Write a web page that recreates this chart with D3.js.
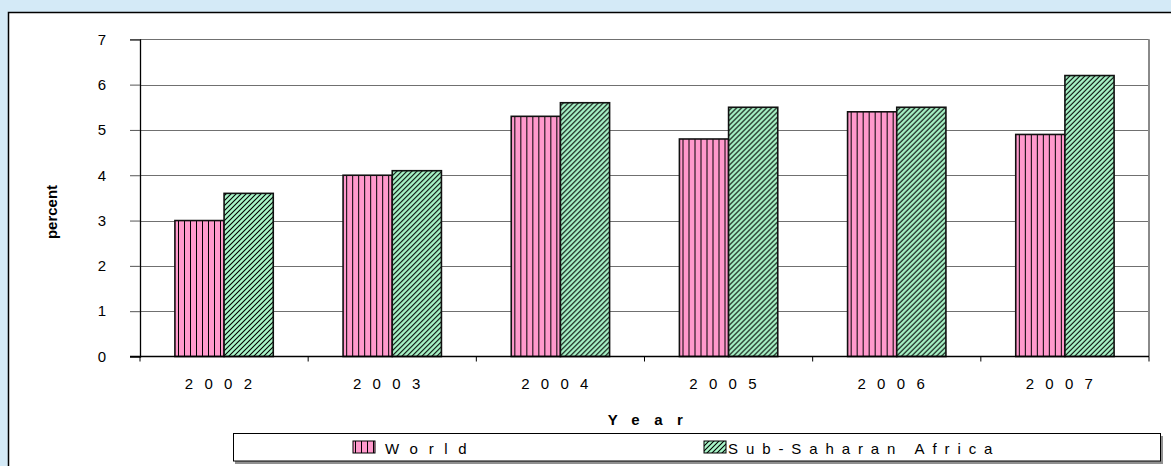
<!DOCTYPE html>
<html>
<head>
<meta charset="utf-8">
<script src="https://cdn.jsdelivr.net/npm/d3@7"></script>
<style>
    html, body { margin: 0; padding: 0; background: #d4eaf7; }
    svg { display: block; font-family: Arial, "Liberation Sans", sans-serif; }
</style>
</head>
<body>
<svg id="chart"></svg>
<script>
// data
const years = ["2002", "2003", "2004", "2005", "2006", "2007"];
const seriesNames = ["World", "Sub-Saharan Africa"];
const world = [3.0, 4.0, 5.3, 4.8, 5.4, 4.9];
const subSaharan = [3.6, 4.1, 5.6, 5.5, 5.5, 6.2];
const yTicks = [0, 1, 2, 3, 4, 5, 6, 7];

const width = 1171;
const height = 466;
const plot = { left: 140, right: 1149, top: 39.3, bottom: 356.5 };
const font = "Arial, 'Liberation Sans', sans-serif";

const svg = d3.select("#chart")
    .attr("width", width)
    .attr("height", height);

// fill patterns
const defs = svg.append("defs");
const vert = defs.append("pattern")
    .attr("id", "vert")
    .attr("patternUnits", "userSpaceOnUse")
    .attr("width", 6).attr("height", 6)
    .attr("x", 2);
vert.append("rect").attr("width", 6).attr("height", 6).attr("fill", "#ff99cc");
vert.append("rect").attr("x", 0).attr("width", 1).attr("height", 6).attr("fill", "#000");

const diag = defs.append("pattern")
    .attr("id", "diag")
    .attr("patternUnits", "userSpaceOnUse")
    .attr("width", 5).attr("height", 5);
diag.append("rect").attr("width", 5).attr("height", 5).attr("fill", "#a8f5c8");
diag.append("path")
    .attr("d", "M-1,1 L1,-1 M0,5 L5,0 M4,6 L6,4")
    .attr("stroke", "#000")
    .attr("stroke-width", 1.1);

const fills = ["url(#vert)", "url(#diag)"];

// white panel
svg.append("rect")
    .attr("x", 8.5).attr("y", 12.5)
    .attr("width", width).attr("height", height)
    .attr("fill", "#fff")
    .attr("stroke", "#000")
    .attr("stroke-width", 1.5);

const x0 = d3.scaleBand()
    .domain(years)
    .range([plot.left, plot.right])
    .padding(0);

const x1 = d3.scaleBand()
    .domain(seriesNames)
    .range([0, x0.bandwidth()])
    .paddingInner(0)
    .paddingOuter(0.71);

const y = d3.scaleLinear()
    .domain([0, 7])
    .range([plot.bottom, plot.top]);

// gridlines
svg.append("g")
    .selectAll("line")
    .data(yTicks.filter(d => d > 0))
    .join("line")
    .attr("x1", plot.left).attr("x2", plot.right)
    .attr("y1", d => Math.round(y(d)) + 0.5)
    .attr("y2", d => Math.round(y(d)) + 0.5)
    .attr("stroke", "#707070")
    .attr("stroke-width", 1);

// plot area right border
svg.append("line")
    .attr("x1", plot.right).attr("x2", plot.right)
    .attr("y1", y(7)).attr("y2", plot.bottom)
    .attr("stroke", "#8a8a8a")
    .attr("stroke-width", 2);

// bars
const rows = years.map((yr, i) => ({ year: yr, values: [world[i], subSaharan[i]] }));

svg.append("g")
    .selectAll("g")
    .data(rows)
    .join("g")
    .attr("transform", d => `translate(${x0(d.year)},0)`)
    .selectAll("rect")
    .data(d => d.values.map((v, j) => ({ name: seriesNames[j], value: v, j })))
    .join("rect")
    .attr("x", d => x1(d.name))
    .attr("y", d => y(d.value))
    .attr("width", x1.bandwidth())
    .attr("height", d => y(0) - y(d.value))
    .attr("fill", d => fills[d.j])
    .attr("stroke", "#111")
    .attr("stroke-width", 1.6);

// y axis
const yAxis = svg.append("g")
    .attr("transform", `translate(${plot.left},0)`)
    .call(d3.axisLeft(y).tickValues(yTicks).tickSize(10).tickPadding(24).tickFormat(d3.format("d")));
yAxis.attr("font-size", 15).attr("font-family", font);
yAxis.select(".domain").attr("stroke", "#000").attr("stroke-width", 1.3);
yAxis.selectAll(".tick line").attr("stroke", "#555");
yAxis.selectAll("text").attr("fill", "#000");

// x axis
const xAxis = svg.append("g")
    .attr("transform", `translate(0,${plot.bottom})`)
    .call(d3.axisBottom(x0).tickSize(0).tickPadding(22));
xAxis.attr("font-size", 15).attr("font-family", font);
xAxis.select(".domain").remove();
xAxis.selectAll("text")
    .attr("letter-spacing", 11.3)
    .attr("fill", "#000");

svg.append("line")
    .attr("x1", plot.left - 10).attr("x2", plot.right)
    .attr("y1", plot.bottom).attr("y2", plot.bottom)
    .attr("stroke", "#000")
    .attr("stroke-width", 1.3);

svg.append("g")
    .selectAll("line")
    .data(years.map(d => x0(d)).concat([plot.right]))
    .join("line")
    .attr("x1", d => d).attr("x2", d => d)
    .attr("y1", plot.bottom).attr("y2", plot.bottom + 5)
    .attr("stroke", "#000");

// axis titles
svg.append("text")
    .attr("transform", "translate(57,212) rotate(-90)")
    .attr("text-anchor", "middle")
    .attr("font-size", 15)
    .attr("font-weight", "bold")
    .text("percent");

svg.append("text")
    .attr("x", (plot.left + plot.right) / 2 + 8)
    .attr("y", 425)
    .attr("text-anchor", "middle")
    .attr("font-size", 15)
    .attr("font-weight", "bold")
    .attr("letter-spacing", 14.5)
    .text("Year");

// legend
const legend = svg.append("g");
legend.append("rect")
    .attr("x", 235).attr("y", 436)
    .attr("width", 928).attr("height", 28)
    .attr("fill", "#909090");
legend.append("rect")
    .attr("x", 233.5).attr("y", 433.5)
    .attr("width", 927).attr("height", 27.5)
    .attr("fill", "#fff")
    .attr("stroke", "#000")
    .attr("stroke-width", 1);

const legendX = [353, 704];
const legendSpacing = [10.7, 7.9];
const items = legend.selectAll("g.item")
    .data(seriesNames)
    .join("g")
    .attr("class", "item")
    .attr("transform", (d, i) => `translate(${legendX[i]},441)`);
items.append("rect")
    .attr("width", 22).attr("height", 12)
    .attr("fill", (d, i) => fills[i])
    .attr("stroke", "#000")
    .attr("stroke-width", 1);
items.append("text")
    .attr("x", (d, i) => i === 0 ? 32 : 24)
    .attr("y", 12.5)
    .attr("font-size", 15)
    .attr("letter-spacing", (d, i) => legendSpacing[i])
    .text(d => d);
</script>
</body>
</html>
